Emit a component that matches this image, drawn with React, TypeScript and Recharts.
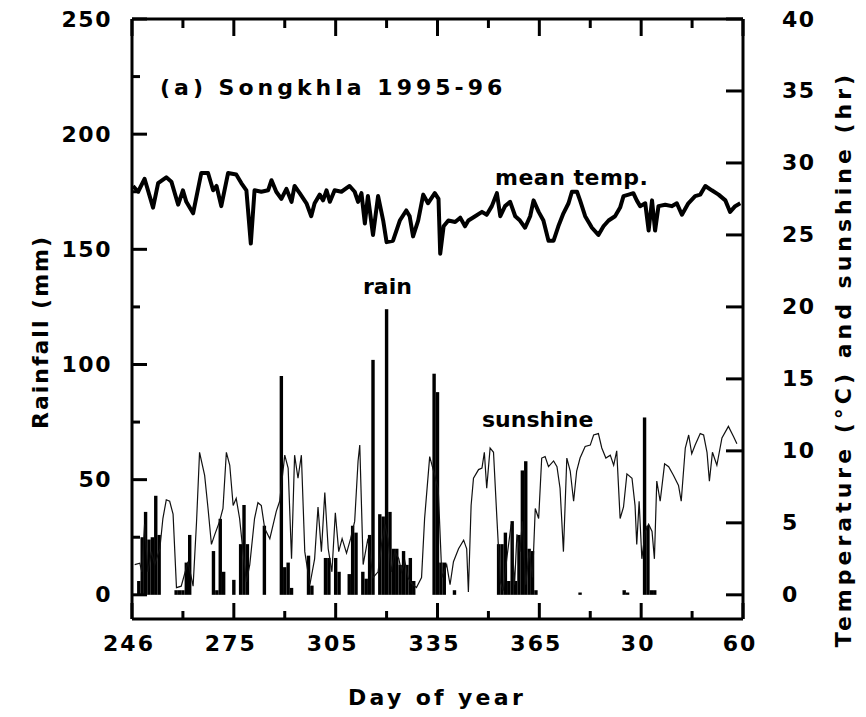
import React from 'react';
import { ComposedChart, Line, Bar, XAxis, YAxis } from 'recharts';

// ---------- data ----------
const xTickDays = [246, 261, 276, 291, 306, 321, 336, 351, 366, 381, 396, 411, 426];
const xMajorDays = [246, 276, 306, 336, 366, 396, 426];
const xMajorLabels = ['246', '275', '305', '335', '365', '30', '60'];
const rainTicks = [0, 25, 50, 75, 100, 125, 150, 175, 200, 225, 250];
const tempTicks = [0, 5, 10, 15, 20, 25, 30, 35, 40];

const tempDays = [
  246.3, 247.8, 249.7, 252.2, 253.7, 256.1, 257.6, 259.6, 261.0, 262.0,
  264.0, 266.4, 268.4, 269.9, 270.9, 272.3, 274.3, 276.7, 278.2, 279.7,
  281.0, 282.1, 284.1, 286.1, 287.1, 288.5, 290.0, 291.5, 293.0, 293.9,
  295.4, 297.4, 298.8, 299.8, 301.3, 302.3, 303.3, 304.3, 305.7, 307.7,
  310.1, 311.6, 312.6, 313.6, 314.6, 315.5, 317.0, 318.5, 320.0, 321.0,
  322.9, 324.9, 326.8, 327.8, 328.8, 330.3, 331.8, 333.2, 335.2, 336.3,
  336.8, 337.8, 339.2, 341.2, 342.7, 344.1, 345.1, 347.1, 349.1, 350.5,
  352.0, 353.5, 354.5, 355.9, 357.4, 358.9, 360.3, 361.8, 363.3, 364.3,
  365.8, 367.2, 368.7, 370.2, 371.6, 373.1, 374.6, 375.6, 377.1, 378.0,
  379.5, 381.5, 383.4, 384.9, 386.4, 388.3, 389.8, 390.8, 392.3, 393.7,
  394.7, 395.7, 397.2, 398.2, 399.2, 400.1, 401.1, 403.1, 405.0, 406.5,
  408.0, 409.9, 411.9, 413.4, 414.9, 416.8, 418.8, 420.8, 422.2, 423.7,
  425.2,
];
const tempValues = [
  28.4, 28.0, 28.9, 26.9, 28.6, 29.0, 28.7, 27.1, 28.1, 27.3,
  26.5, 29.3, 29.3, 28.1, 28.4, 27.0, 29.3, 29.2, 28.6, 28.1,
  24.4, 28.1, 28.0, 28.1, 28.8, 28.0, 27.5, 28.2, 27.3, 28.4,
  27.9, 27.2, 26.3, 27.2, 27.8, 27.4, 28.1, 27.3, 28.1, 28.0,
  28.4, 28.0, 27.3, 27.9, 25.8, 27.7, 25.0, 27.7, 26.0, 24.5,
  24.6, 26.0, 26.7, 26.3, 24.9, 26.0, 27.8, 27.2, 27.9, 27.5,
  23.7, 25.6, 26.0, 25.9, 26.2, 25.6, 26.0, 26.3, 26.6, 26.4,
  27.0, 27.9, 26.3, 27.0, 27.3, 26.3, 26.0, 25.5, 26.3, 27.4,
  26.6, 26.0, 24.6, 24.6, 25.6, 26.5, 27.2, 28.0, 28.0, 27.4,
  26.3, 25.5, 25.0, 25.6, 26.0, 26.3, 26.9, 27.7, 27.8, 27.9,
  27.4, 27.0, 27.2, 25.3, 27.4, 25.3, 27.0, 27.1, 27.0, 27.2,
  26.4, 27.2, 27.7, 27.8, 28.4, 28.1, 27.8, 27.4, 26.6, 27.0,
  27.2,
];

const sunDays = [
  246.8, 248.3, 248.9, 249.7, 250.7, 251.7, 252.7, 254.2, 255.1, 256.1,
  257.1, 258.1, 259.1, 260.5, 262.5, 264.0, 265.0, 265.9, 267.4, 268.4,
  269.4, 270.4, 271.8, 272.8, 273.8, 274.8, 275.8, 276.7, 277.7, 278.7,
  279.7, 280.7, 282.1, 283.1, 284.1, 285.1, 286.6, 287.6, 288.5, 289.5,
  291.0, 292.0, 293.0, 293.9, 294.9, 295.9, 296.9, 298.4, 299.8, 300.8,
  301.8, 302.8, 303.8, 304.9, 305.9, 306.9, 307.9, 309.2, 310.4, 311.6,
  312.6, 313.1, 314.1, 315.5, 317.0, 318.5, 319.5, 320.5, 321.4, 322.4,
  323.4, 324.6, 325.4, 326.4, 327.3, 328.3, 329.8, 331.3, 332.2, 333.7,
  335.2, 336.2, 337.3, 338.7, 339.7, 340.7, 342.2, 343.7, 344.6, 345.1,
  345.9, 346.6, 348.1, 349.1, 349.8, 350.5, 351.5, 352.5, 353.5, 354.5,
  355.4, 356.4, 357.7, 358.7, 359.4, 360.3, 361.0, 362.0, 363.0, 364.0,
  364.8, 365.8, 366.7, 367.7, 368.7, 370.2, 371.2, 372.1, 373.1, 374.1,
  375.1, 376.1, 377.0, 378.0, 379.5, 381.0, 382.0, 383.4, 384.4, 385.6,
  386.9, 387.9, 388.8, 389.8, 390.8, 391.8, 393.3, 394.2, 394.7, 395.4,
  396.2, 397.2, 398.2, 399.2, 399.9, 400.6, 401.6, 402.9, 404.1, 405.5,
  407.0, 407.8, 409.0, 410.0, 410.9, 411.9, 413.4, 414.4, 415.4, 416.1,
  417.0, 418.3, 419.8, 421.7, 423.2, 424.2,
];
const sunValues = [
  2.1, 2.2, 1.6, 4.9, 1.6, 3.0, 2.1, 3.2, 5.3, 6.6,
  6.5, 5.6, 0.5, 0.6, 2.3, 0.6, 5.0, 9.9, 8.3, 6.0,
  3.5, 4.2, 5.1, 6.0, 9.9, 9.0, 6.2, 6.7, 5.3, 3.0,
  0.9, 2.1, 5.3, 6.4, 6.2, 4.6, 3.9, 4.9, 5.8, 6.5,
  9.7, 8.8, 2.5, 9.7, 8.1, 9.7, 3.0, 0.7, 2.5, 6.1,
  3.0, 7.1, 3.2, 1.6, 5.7, 3.0, 3.9, 2.9, 3.9, 5.1,
  9.3, 10.4, 2.1, 3.9, 1.2, 1.6, 3.5, 4.9, 3.9, 1.6,
  3.0, 2.5, 1.6, 2.3, 1.2, 0.8, 0.5, 1.2, 5.3, 9.6,
  8.3, 7.4, 1.2, 2.1, 0.7, 2.3, 3.2, 3.8, 3.2, 0.2,
  6.2, 8.1, 8.7, 8.8, 9.9, 7.4, 10.2, 9.9, 5.3, 0.9,
  0.3, 2.5, 4.9, 0.7, 4.2, 3.0, 5.1, 0.7, 3.0, 1.2,
  6.0, 5.3, 9.5, 9.6, 8.9, 9.3, 8.9, 7.4, 3.0, 9.5,
  8.6, 6.5, 8.6, 9.5, 10.3, 10.4, 11.1, 11.2, 10.2, 9.5,
  9.7, 9.0, 10.0, 5.3, 6.1, 8.4, 8.1, 6.2, 3.5, 6.5,
  2.5, 4.4, 4.9, 4.4, 2.5, 7.9, 6.5, 9.1, 8.9, 8.3,
  7.6, 6.5, 10.2, 11.1, 9.8, 10.4, 11.2, 11.1, 9.9, 7.9,
  9.9, 9.0, 10.9, 11.7, 11.0, 10.5,
];

const rainDays = [
  248, 249, 250, 251, 252, 253, 254, 259, 260, 261, 262, 263,
  270, 271, 272, 273, 276, 278, 279, 280, 285, 290, 291, 292, 293,
  298, 299, 303, 304, 306, 307, 310, 311, 312, 314, 315, 316, 317,
  319, 320, 321, 322, 323, 324, 325, 326, 327, 328, 329,
  335, 336, 337, 338, 341, 354, 355, 356, 357, 358, 359, 360, 361,
  362, 363, 364, 365, 378, 391, 392, 397, 398, 399, 400,
];
const rainValues = [
  6, 25, 36, 24, 25, 43, 26, 2, 2, 2, 14, 26,
  19, 2, 33, 10, 6.5, 22, 39, 22, 30, 95, 12, 14, 3,
  17, 4, 16, 16, 16, 10, 9, 30, 27, 10, 7, 26, 102,
  35, 34, 124, 36, 20, 20, 13, 19, 13, 16, 6,
  96, 88, 14, 14, 2, 22, 22, 27, 6, 32, 6, 26, 54,
  58, 20, 19, 2, 1, 2, 1, 77, 30, 2, 2,
];

const FIRST_DAY = 246;
const LAST_DAY = 426;

// ---------- derived tables ----------
const rainByDay: Record<number, number> = {};
rainDays.forEach((d, i) => { rainByDay[d] = rainValues[i]; });
const dailyRows: { day: number; rain: number | null }[] = [];
for (let d = FIRST_DAY; d < LAST_DAY; d++) {
  dailyRows.push({ day: d, rain: rainByDay[d] ?? null });
}
const tempRows = tempDays.map((d, i) => ({ day: d, temp: tempValues[i] }));
const sunRows = sunDays.map((d, i) => ({ day: d, sun: sunValues[i] }));

// ---------- styling ----------
const FONT = '"DejaVu Sans", Verdana, sans-serif';
const INK = '#000';
const LEFT_GAP = 20;
const RIGHT_GAP = 39;
const BOTTOM_GAP = 16;
const BAR_W = 3.4;

const LeftTick = (p: any) => {
  const { x, y, payload } = p;
  const ax = x + LEFT_GAP;
  const v = payload.value;
  const major = v % 50 === 0;
  return (
    <g>
      <line x1={ax} x2={ax + (major ? 15 : 8)} y1={y} y2={y} stroke={INK} strokeWidth={3} />
      {major && (
        <text x={x} y={y} textAnchor="end" dominantBaseline="central" fontFamily={FONT}
          fontWeight="bold" fontSize={22} letterSpacing={1.5} fill={INK}>{v}</text>
      )}
    </g>
  );
};

const RightTick = (p: any) => {
  const { x, y, payload } = p;
  const ax = x - RIGHT_GAP;
  return (
    <g>
      <line x1={ax} x2={ax - 17} y1={y} y2={y} stroke={INK} strokeWidth={3} />
      <text x={x} y={y} textAnchor="start" dominantBaseline="central" fontFamily={FONT}
        fontWeight="bold" fontSize={22} letterSpacing={1.5} fill={INK}>{payload.value}</text>
    </g>
  );
};

const BottomTick = (p: any) => {
  const { x, y, payload } = p;
  const ay = y - BOTTOM_GAP;
  const idx = xMajorDays.indexOf(payload.value);
  const major = idx >= 0;
  return (
    <g>
      <line x1={x} x2={x} y1={ay} y2={ay - (major ? 16 : 8)} stroke={INK} strokeWidth={3} />
      {major && (
        <text x={x - 3} y={ay + 32} textAnchor="middle" fontFamily={FONT} fontWeight="bold"
          fontSize={22} letterSpacing={2} fill={INK}>{xMajorLabels[idx]}</text>
      )}
    </g>
  );
};

const TopTick = (p: any) => {
  const { x, y, payload } = p;
  const major = xMajorDays.indexOf(payload.value) >= 0;
  return <line x1={x} x2={x} y1={y} y2={y + (major ? 17 : 9)} stroke={INK} strokeWidth={3} />;
};

const RainBar = (p: any) => {
  const { x, y, width, height } = p;
  if (x == null || y == null || !height) return <g />;
  const cx = x + (width || 0) / 2;
  const top = Math.min(y, y + height);
  return <rect x={cx - BAR_W / 2} y={top} width={BAR_W} height={Math.abs(height)} fill={INK} />;
};

const txt = { fontFamily: FONT, fontWeight: 'bold' as const, fontSize: 22, fill: INK };

export default function App() {
  return (
    <div style={{ position: 'absolute', left: 0, top: 0, width: 866, height: 717, background: '#fff' }}>
      <ComposedChart
        width={866}
        height={717}
        data={dailyRows}
        margin={{ top: 18, right: 43, bottom: 38, left: 52 }}
      >
        <XAxis
          xAxisId="x"
          dataKey="day"
          type="number"
          domain={[FIRST_DAY, LAST_DAY]}
          allowDataOverflow
          ticks={xTickDays}
          interval={0}
          height={60}
          tickSize={0}
          tickMargin={BOTTOM_GAP}
          tickLine={false}
          axisLine={{ stroke: INK, strokeWidth: 3 }}
          tick={BottomTick}
        />
        <XAxis
          xAxisId="top"
          orientation="top"
          dataKey="day"
          type="number"
          domain={[FIRST_DAY, LAST_DAY]}
          allowDataOverflow
          ticks={xTickDays}
          interval={0}
          height={1}
          tickSize={0}
          tickMargin={0}
          tickLine={false}
          axisLine={{ stroke: INK, strokeWidth: 3 }}
          tick={TopTick}
        />
        <YAxis
          yAxisId="left"
          orientation="left"
          type="number"
          domain={[-10.5, 250]}
          allowDataOverflow
          ticks={rainTicks}
          interval={0}
          width={80}
          tickSize={0}
          tickMargin={LEFT_GAP}
          tickLine={false}
          axisLine={{ stroke: INK, strokeWidth: 3 }}
          tick={LeftTick}
        />
        <YAxis
          yAxisId="right"
          orientation="right"
          type="number"
          domain={[-1.68, 40]}
          allowDataOverflow
          ticks={tempTicks}
          interval={0}
          width={80}
          tickSize={0}
          tickMargin={RIGHT_GAP}
          tickLine={false}
          axisLine={{ stroke: INK, strokeWidth: 3 }}
          tick={RightTick}
        />
        <Bar
          xAxisId="x"
          yAxisId="left"
          dataKey="rain"
          fill={INK}
          shape={RainBar}
          isAnimationActive={false}
        />
        <Line
          xAxisId="x"
          yAxisId="right"
          data={sunRows}
          dataKey="sun"
          type="linear"
          stroke="#111"
          strokeWidth={1.2}
          dot={false}
          isAnimationActive={false}
        />
        <Line
          xAxisId="x"
          yAxisId="right"
          data={tempRows}
          dataKey="temp"
          type="linear"
          stroke={INK}
          strokeWidth={4}
          strokeLinejoin="round"
          dot={false}
          isAnimationActive={false}
        />
      </ComposedChart>
      <svg width={866} height={717} style={{ position: 'absolute', left: 0, top: 0, pointerEvents: 'none' }}>
        <text x={160} y={95} {...txt} letterSpacing={4}>(a) Songkhla 1995-96</text>
        <text x={495} y={185} {...txt} letterSpacing={0.5}>mean temp.</text>
        <text x={363} y={294} {...txt}>rain</text>
        <text x={482} y={427} {...txt}>sunshine</text>
        <text x={348} y={705} {...txt} letterSpacing={3.3}>Day of year</text>
        <text transform="translate(40,332) rotate(-90)" textAnchor="middle" dominantBaseline="central"
          {...txt} letterSpacing={2}>Rainfall (mm)</text>
        <text transform="translate(843,359) rotate(-90)" textAnchor="middle" dominantBaseline="central"
          {...txt} letterSpacing={4}>Temperature (°C) and sunshine (hr)</text>
      </svg>
    </div>
  );
}
